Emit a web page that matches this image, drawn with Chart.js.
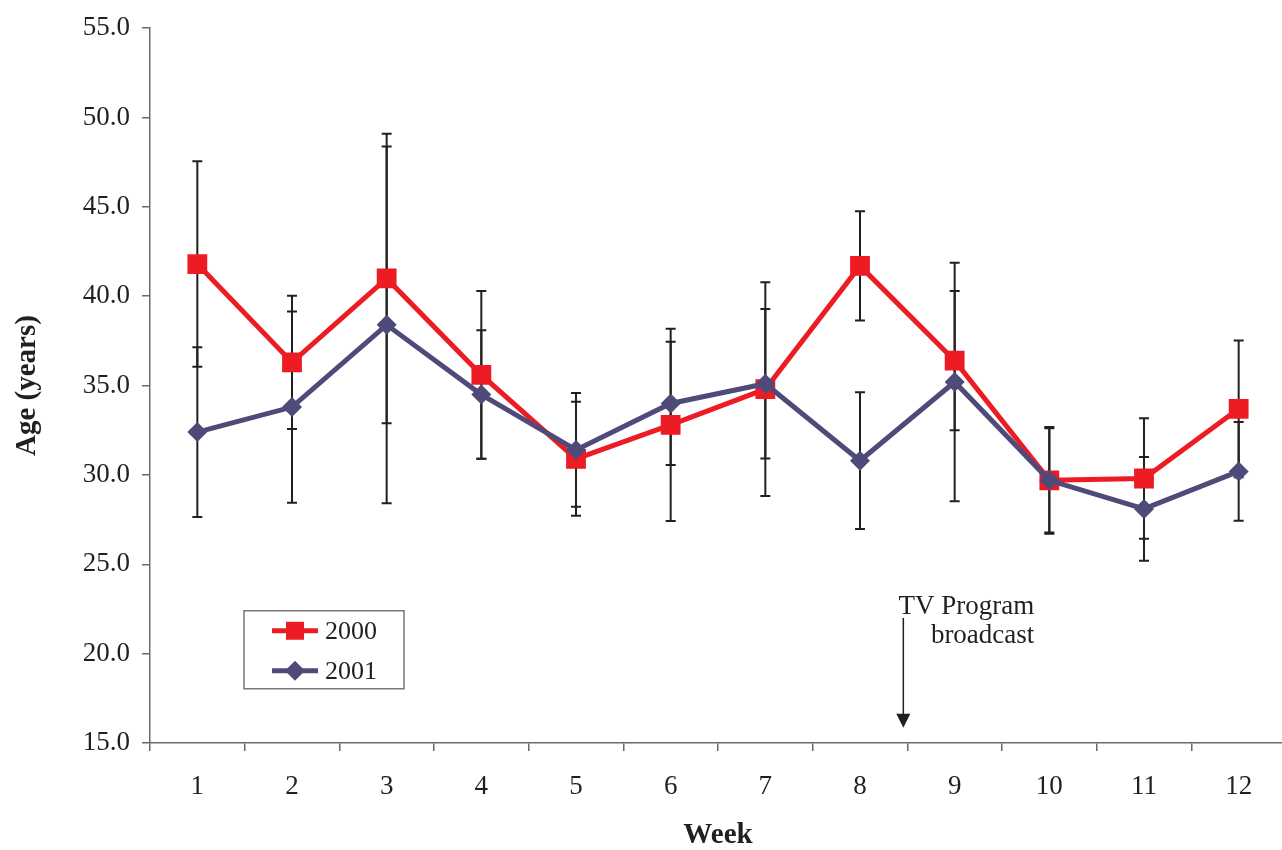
<!DOCTYPE html>
<html>
<head>
<meta charset="utf-8">
<script src="https://cdn.jsdelivr.net/npm/chart.js@4.4.1/dist/chart.umd.min.js"></script>
<style>
html, body { margin: 0; padding: 0; background: #fff; overflow: hidden; }
#wrap { width: 1290px; height: 850px; }
</style>
</head>
<body>
<div id="wrap"><canvas id="chart" width="1290" height="850"></canvas></div>
<script>
const weeks = ["1", "2", "3", "4", "5", "6", "7", "8", "9", "10", "11", "12"]
const yTicks = [15, 20, 25, 30, 35, 40, 45, 50, 55]

// mean age per week
const age2000 = [41.8, 36.3, 41.0, 35.6, 30.9, 32.8, 34.8, 41.7, 36.4, 29.7, 29.8, 33.7]
const age2001 = [32.4, 33.8, 38.4, 34.5, 31.4, 34.0, 35.1, 30.8, 35.2, 29.7, 28.1, 30.2]

// +/- error bar half lengths
const err2000 = [5.75, 3.73, 8.1, 4.7, 3.19, 5.38, 5.98, 3.06, 3.9, 2.99, 3.37, 3.83]
const err2001 = [4.75, 5.35, 9.98, 3.6, 3.18, 3.45, 4.18, 3.83, 6.67, 2.92, 2.9, 2.76]

const RED = "#ED1C24"
const PURPLE = "#4E4B7A"
const INK = "#231f20"
const AXIS = "#6a6a6a"
const SERIF = "'Liberation Serif', 'Times New Roman', serif"

const errorBars = {
    id: "errorBars",
    beforeDatasetsDraw(chart) {
        const { ctx, scales: { x, y } } = chart
        ctx.save()
        ctx.strokeStyle = INK
        ctx.lineWidth = 2
        const draw = (vals, errs) => {
            vals.forEach((v, i) => {
                const px = x.getPixelForValue(i)
                const top = y.getPixelForValue(v + errs[i])
                const bot = y.getPixelForValue(v - errs[i])
                ctx.beginPath()
                ctx.moveTo(px, top)
                ctx.lineTo(px, bot)
                ctx.moveTo(px - 5, top)
                ctx.lineTo(px + 5, top)
                ctx.moveTo(px - 5, bot)
                ctx.lineTo(px + 5, bot)
                ctx.stroke()
            })
        }
        draw(age2000, err2000)
        draw(age2001, err2001)
        ctx.restore()
    },
}

const extras = {
    id: "extras",
    afterDraw(chart) {
        const { ctx, chartArea, scales: { x, y } } = chart
        ctx.save()

        // legend box
        const lx = chartArea.left + 94
        const ly = y.getPixelForValue(22.4)
        const lw = 160
        const lh = 78
        ctx.strokeStyle = "#777"
        ctx.lineWidth = 1.5
        ctx.strokeRect(lx, ly, lw, lh)

        const entries = [
            { label: "2000", color: RED, style: "rect" },
            { label: "2001", color: PURPLE, style: "diamond" },
        ]
        entries.forEach((e, i) => {
            const cy = ly + 20 + i * 40
            ctx.strokeStyle = e.color
            ctx.fillStyle = e.color
            ctx.lineWidth = 5
            ctx.beginPath()
            ctx.moveTo(lx + 28, cy)
            ctx.lineTo(lx + 74, cy)
            ctx.stroke()
            ctx.beginPath()
            if (e.style === "rect") {
                ctx.rect(lx + 51 - 9, cy - 9, 18, 18)
            } else {
                ctx.moveTo(lx + 51, cy - 10)
                ctx.lineTo(lx + 61, cy)
                ctx.lineTo(lx + 51, cy + 10)
                ctx.lineTo(lx + 41, cy)
                ctx.closePath()
            }
            ctx.fill()
            ctx.fillStyle = INK
            ctx.font = "26px " + SERIF
            ctx.textAlign = "left"
            ctx.textBaseline = "middle"
            ctx.fillText(e.label, lx + 81, cy + 1)
        })

        // TV program annotation
        const ax = (x.getPixelForValue(7) + x.getPixelForValue(8)) / 2 - 4
        ctx.fillStyle = INK
        ctx.font = "27px " + SERIF
        ctx.textAlign = "right"
        ctx.textBaseline = "middle"
        ctx.fillText("TV Program", ax + 131, y.getPixelForValue(22.6))
        ctx.fillText("broadcast", ax + 131, y.getPixelForValue(21.0))

        const top = y.getPixelForValue(22.0)
        const tip = y.getPixelForValue(15.85)
        ctx.strokeStyle = INK
        ctx.lineWidth = 1.5
        ctx.beginPath()
        ctx.moveTo(ax, top)
        ctx.lineTo(ax, tip - 12)
        ctx.stroke()
        ctx.beginPath()
        ctx.moveTo(ax - 7, tip - 14)
        ctx.lineTo(ax + 7, tip - 14)
        ctx.lineTo(ax, tip)
        ctx.closePath()
        ctx.fill()

        ctx.restore()
    },
}

new Chart(document.getElementById("chart").getContext("2d"), {
    type: "line",
    plugins: [errorBars, extras],
    data: {
        labels: weeks,
        datasets: [
            {
                label: "2000",
                data: age2000,
                borderColor: RED,
                backgroundColor: RED,
                borderWidth: 5,
                pointStyle: "rect",
                pointRadius: 14,
                pointBorderWidth: 0,
                pointBackgroundColor: RED,
                tension: 0,
                order: 1,
            },
            {
                label: "2001",
                data: age2001,
                borderColor: PURPLE,
                backgroundColor: PURPLE,
                borderWidth: 5,
                pointStyle: "rectRot",
                pointRadius: 10,
                pointBorderWidth: 0,
                pointBackgroundColor: PURPLE,
                tension: 0,
                order: 0,
            },
        ],
    },
    options: {
        responsive: false,
        animation: false,
        devicePixelRatio: 1,
        layout: {
            autoPadding: false,
            padding: { top: 25, right: 4, left: 0, bottom: 0 },
        },
        plugins: {
            legend: { display: false },
            tooltip: { enabled: false },
            title: { display: false },
        },
        scales: {
            x: {
                offset: true,
                grid: {
                    offset: true,
                    drawOnChartArea: false,
                    tickLength: 8,
                    color: AXIS,
                    lineWidth: 1.5,
                },
                border: { color: AXIS, width: 1.5 },
                ticks: {
                    color: INK,
                    padding: 20,
                    maxRotation: 0,
                    font: { family: SERIF, size: 27 },
                },
                title: {
                    display: true,
                    text: "Week",
                    color: INK,
                    padding: { top: 0, bottom: 0 },
                    font: { family: SERIF, size: 29, weight: "bold", lineHeight: 1.0 },
                },
                afterFit: (scale) => {
                    scale.height = 107
                },
            },
            y: {
                min: 15,
                max: 55,
                afterBuildTicks: (scale) => {
                    scale.ticks = yTicks.map((v) => ({ value: v }))
                },
                grid: {
                    drawOnChartArea: false,
                    tickLength: 8,
                    color: AXIS,
                    lineWidth: 1.5,
                },
                border: { color: AXIS, width: 1.5 },
                ticks: {
                    color: INK,
                    padding: 12,
                    font: { family: SERIF, size: 27 },
                    callback: (v) => Number(v).toFixed(1),
                },
                title: {
                    display: true,
                    text: "Age (years)",
                    color: INK,
                    padding: { top: 10, bottom: 0 },
                    font: { family: SERIF, size: 29, weight: "bold" },
                },
                afterFit: (scale) => {
                    scale.width = 150
                },
            },
        },
    },
})
</script>
</body>
</html>
